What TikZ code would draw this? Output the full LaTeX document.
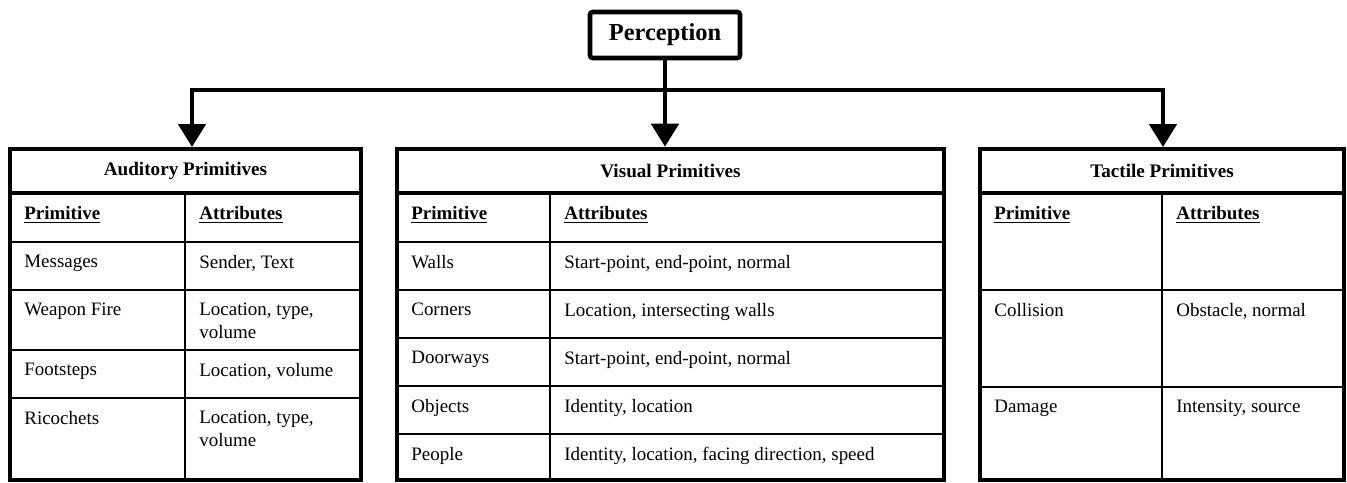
\documentclass[tikz,border=0pt]{standalone}
\usepackage{fontspec}
\setmainfont{Liberation Serif}
\usetikzlibrary{arrows.meta,positioning}
\tikzset{
  outline/.style={draw, line width=2.6pt},
  rule/.style={line width=1.1pt},
  titlebox/.style={outline, inner sep=0pt, font=\fontsize{10.9}{13}\selectfont\bfseries},
  cell/.style={anchor=north west, inner sep=0pt, align=left, font=\fontsize{10.8}{13}\selectfont},
  headcell/.style={cell, font=\fontsize{10.8}{13}\selectfont\bfseries},
  link/.style={line width=2.8pt},
  pointer/.style={link, -{Triangle[length=0.46cm, width=0.54cm]}},
}

\begin{document}
\begin{tikzpicture}[x=0.02cm, y=-0.02cm]
				\useasboundingbox (0,0) rectangle (1347,483);
				
				% Top node
				\node[outline, rounded corners=1.5pt, minimum width=3cm, minimum height=0.92cm, font=\fontsize{13.9}{16}\selectfont\bfseries] (perc) at (665,35) {Perception};
				
				% Table titles
				\node[titlebox, minimum width=7.02cm, minimum height=0.88cm] (audtitle) at (185.5,171) {Auditory Primitives};
				\node[titlebox, minimum width=10.94cm, minimum height=0.88cm] (vistitle) at (670.5,171) {Visual Primitives};
				\node[titlebox, minimum width=7.28cm, minimum height=0.88cm] (tactitle) at (1162,171) {Tactile Primitives};
				
				% Auditory table
				\foreach \y in {242,290,350,398} \draw[rule] (10,\y) -- (361,\y);
				\draw[rule] (185,193) -- (185,480);
				\draw[outline] (10,193) rectangle (361,480);
				\node[headcell] (aud-p0) at (24,206) {\underline{Primitive}};
				\node[headcell] (aud-a0) at (199,206) {\underline{Attributes}};
				\node[cell] (aud-p1) at (24,255) {Messages};
				\node[cell] (aud-a1) at (199,255) {Sender, Text};
				\node[cell] (aud-p2) at (24,303) {Weapon Fire};
				\node[cell] (aud-a2) at (199,303) {Location, type,\\volume};
				\node[cell] (aud-p3) at (24,363) {Footsteps};
				\node[cell] (aud-a3) at (199,363) {Location, volume};
				\node[cell] (aud-p4) at (24,411) {Ricochets};
				\node[cell] (aud-a4) at (199,411) {Location, type,\\volume};
				
				% Visual table
				\foreach \y in {242,290,338,386,434} \draw[rule] (397,\y) -- (944,\y);
				\draw[rule] (550,193) -- (550,480);
				\draw[outline] (397,193) rectangle (944,480);
				\node[headcell] (vis-p0) at (411,206) {\underline{Primitive}};
				\node[headcell] (vis-a0) at (564,206) {\underline{Attributes}};
				\node[cell] (vis-p1) at (411,255) {Walls};
				\node[cell] (vis-a1) at (564,255) {Start-point, end-point, normal};
				\node[cell] (vis-p2) at (411,303) {Corners};
				\node[cell] (vis-a2) at (564,303) {Location, intersecting walls};
				\node[cell] (vis-p3) at (411,351) {Doorways};
				\node[cell] (vis-a3) at (564,351) {Start-point, end-point, normal};
				\node[cell] (vis-p4) at (411,399) {Objects};
				\node[cell] (vis-a4) at (564,399) {Identity, location};
				\node[cell] (vis-p5) at (411,447) {People};
				\node[cell] (vis-a5) at (564,447) {Identity, location, facing direction, speed};
				
				% Tactile table
				\foreach \y in {290,387} \draw[rule] (980,\y) -- (1344,\y);
				\draw[rule] (1162,193) -- (1162,480);
				\draw[outline] (980,193) rectangle (1344,480);
				\node[headcell] (tac-p0) at (994,206) {\underline{Primitive}};
				\node[headcell] (tac-a0) at (1176,206) {\underline{Attributes}};
				\node[cell] (tac-p1) at (994,303) {Collision};
				\node[cell] (tac-a1) at (1176,303) {Obstacle, normal};
				\node[cell] (tac-p2) at (994,400) {Damage};
				\node[cell] (tac-a2) at (1176,400) {Intensity, source};
				
				% Connections
				\coordinate (split) at (665,90);
				\coordinate (audin) at (192,147);
				\coordinate (tacin) at (1163,147);
				\draw[pointer] (perc.south) -- (perc.south |- vistitle.north);
				\draw[pointer] (split) -| (audin);
				\draw[pointer] (split) -| (tacin);
			\end{tikzpicture}
\end{document}
